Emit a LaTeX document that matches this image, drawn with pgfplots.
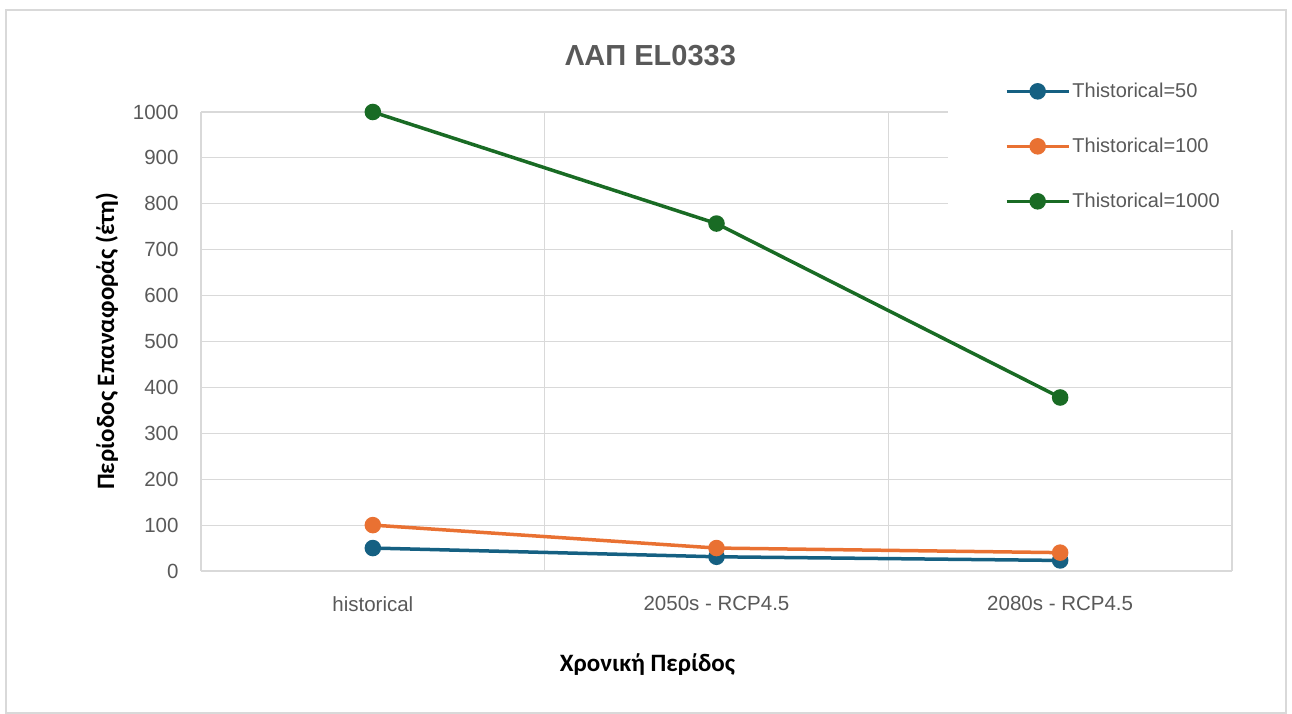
\documentclass[border=0pt]{standalone}
\usepackage{fontspec}
\setmainfont{Liberation Sans}
\newfontfamily\lblfont{Carlito}
\usepackage{pgfplots}
\pgfplotsset{compat=1.18}
\definecolor{cblue}{HTML}{156082}
\definecolor{corange}{HTML}{E97132}
\definecolor{cgreen}{HTML}{196B24}
\definecolor{txt}{HTML}{595959}
\definecolor{grd}{HTML}{D9D9D9}
\begin{document}
\begin{tikzpicture}
\path[use as bounding box] (0pt,0pt) rectangle (1292pt,713pt);
\draw[grd, line width=1.2pt] (6pt,0pt) rectangle (1286pt,703pt);
\begin{axis}[
  at={(201pt,142pt)}, anchor=south west,
  scale only axis, width=1031pt, height=459pt,
  xmin=-0.5, xmax=2.5, ymin=0, ymax=1000,
  xtick={0,1,2}, xticklabels={historical,2050s - RCP4.5,2080s - RCP4.5},
  extra x ticks={-0.5,0.5,1.5,2.5}, extra x tick labels={},
  extra x tick style={grid=major, major tick length=0pt},
  ytick={0,100,...,1000},
  ymajorgrids, 
  grid style={grd, line width=1.2pt},
  axis line style={draw=none},
  major tick length=0pt,
  tick label style={font=\fontsize{20.5}{22}\selectfont, text=txt},
  /pgf/number format/assume math mode=true,
  /pgf/number format/1000 sep={},
  xticklabel style={yshift=-22pt},
  yticklabel style={xshift=-19pt},
  xlabel={\lblfont\bfseries Χρονική Περίδος},
  ylabel={\lblfont\bfseries Περίοδος Επαναφοράς (έτη)},
  label style={font=\fontsize{25}{28}\selectfont, text=black},
  xlabel style={yshift=-35pt, xshift=-69pt},
  ylabel style={yshift=8pt},
  title={\bfseries ΛΑΠ EL0333},
  title style={font=\fontsize{29}{32}\selectfont, text=txt, yshift=37pt, xshift=-66pt},
  legend style={at={(0.998,1.089)}, anchor=north east, draw=none, fill=none,
    font=\fontsize{20}{22}\selectfont, text=txt, row sep=35pt,
    inner xsep=8pt, inner ysep=10pt, cells={anchor=west}},
  legend cell align=left,
  legend image code/.code={
    \draw[#1, line width=3.5pt] (-8pt,0pt) -- (54pt,0pt);
    \fill[#1] (23pt,0pt) circle (6.5pt);
  },
  clip=false,
]
\fill[white] (axis cs:1.673,743) rectangle (axis cs:2.523,1102);
\addplot[cblue, line width=3.5pt, mark=*, mark size=6.5pt] coordinates {(0,50) (1,31) (2,23)};
\addlegendentry{Thistorical=50}
\addplot[corange, line width=3.5pt, mark=*, mark size=6.5pt] coordinates {(0,100) (1,50) (2,40)};
\addlegendentry{Thistorical=100}
\addplot[cgreen, line width=3.5pt, mark=*, mark size=6.5pt] coordinates {(0,1000) (1,757) (2,378)};
\addlegendentry{Thistorical=1000}
\end{axis}
\end{tikzpicture}
\end{document}
